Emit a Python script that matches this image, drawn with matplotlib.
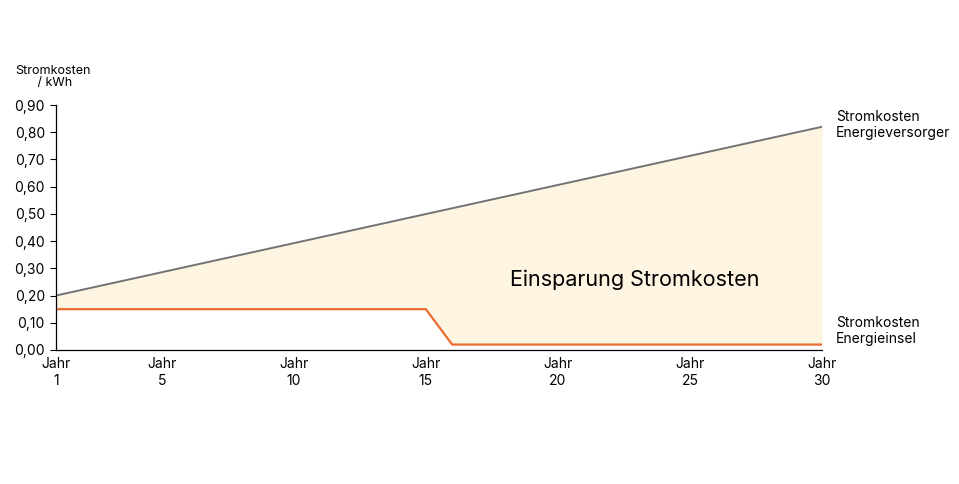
import numpy as np
import matplotlib.pyplot as plt

plt.rcParams['font.family'] = ['Inter', 'DejaVu Sans']

years = [1, 30]
versorger = [0.20, 0.82]
insel_years = [1, 15, 16, 30]
insel = [0.15, 0.15, 0.02, 0.02]
tick_years = [1, 5, 10, 15, 20, 25, 30]
yticks = [0.0, 0.1, 0.2, 0.3, 0.4, 0.5, 0.6, 0.7, 0.8, 0.9]

fig = plt.figure(figsize=(9.59, 4.84), dpi=100)
ax = fig.add_axes([56/959, 1-350/484, (822-56)/959, (350-105)/484])

x = np.array(insel_years, dtype=float)
top = np.interp(x, years, versorger)
ax.fill_between(x, insel, top, color='#fdf5e1', lw=0)
ax.plot(years, versorger, color='#737373', lw=1.4)
ax.plot(insel_years, insel, color='#ea6b30', lw=1.6)

ax.set_xlim(1, 30)
ax.set_ylim(0, 0.9)
ax.set_xticks(tick_years)
ax.set_xticklabels([f'Jahr\n{y}' for y in tick_years], fontsize=10, linespacing=1.3)
ax.set_yticks(yticks)
ax.set_yticklabels([f'{v:.2f}'.replace('.', ',') for v in yticks], fontsize=10)
ax.tick_params(axis='x', length=0, pad=5)
ax.tick_params(axis='y', length=4, width=0.8, pad=4)
for s in ['top', 'right']:
    ax.spines[s].set_visible(False)
for s in ['left', 'bottom']:
    ax.spines[s].set_linewidth(0.9)

fig.text(53/959, 1-77/484, 'Stromkosten\n / kWh', ha='center', va='center', fontsize=9, linespacing=1.0)
ax.text(0.755, 0.285, 'Einsparung Stromkosten', transform=ax.transAxes,
        ha='center', va='center', fontsize=15.5)
fig.text(836/959, 1-125/484, 'Stromkosten\nEnergieversorger', ha='left', va='center', fontsize=10, linespacing=1.15)
fig.text(836/959, 1-331/484, 'Stromkosten\nEnergieinsel', ha='left', va='center', fontsize=10, linespacing=1.15)

fig.savefig('out.png', dpi=100)
